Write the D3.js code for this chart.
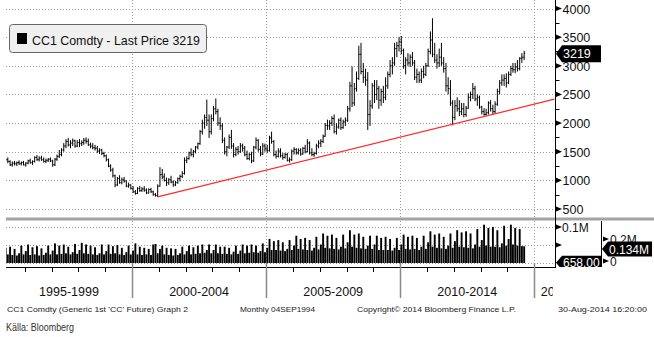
<!DOCTYPE html>
<html><head><meta charset="utf-8">
<script src="https://cdn.jsdelivr.net/npm/d3@7"></script>
<style>
body{margin:0;background:#fff;}
svg{display:block;font-family:"Liberation Sans",Arial,sans-serif;}
</style>
</head><body>
<svg id="c" width="654" height="337"></svg>
<script>
// ---- DATA ----
const firstMonth = "1995-04";
const openP = [
1380,1360,1330,1270,1300,1290,1310,1290,1310,
1270,1300,1340,1310,1330,1400,1360,1390,1360,1330,1350,1370,
1340,1270,1370,1420,1450,1530,1600,1680,1620,1650,1690,1600,
1660,1640,1660,1700,1680,1620,1600,1570,1560,1510,1530,1470,
1430,1360,1250,1180,1080,920,1030,960,1010,990,900,920,
860,800,770,860,820,850,830,780,840,800,750,735,
900,1100,1060,1000,960,1010,970,920,960,1030,1070,1120,
1350,1380,1480,1450,1500,1580,1640,1850,2000,2100,2050,1850,
2080,2250,2200,2000,1950,1700,1500,1580,1750,1600,1450,1540,
1500,1600,1560,1450,1380,1450,1340,1580,1700,1540,1460,1600,
1550,1520,1740,1680,1450,1420,1510,1430,1400,1450,1350,1360,
1510,1540,1480,1520,1460,1560,1500,1650,1480,1450,1470,1600,
1650,1680,1770,1960,1950,2000,2080,1850,1930,2050,1920,2020,
2050,2250,2650,2350,2600,2780,3200,2900,2800,2750,2150,2300,
2650,2500,2600,2400,2550,2450,2650,2850,3000,3050,3300,3350,
3420,3270,3000,3100,3050,3150,3050,2800,2850,2750,2900,2850,
3000,3250,3450,3200,3100,3050,3150,3050,2950,2650,2600,2350,
2100,2300,2250,2200,2250,2150,2260,2450,2500,2600,2420,2450,
2280,2200,2150,2180,2350,2250,2200,2330,2550,2700,2750,2780,
2700,2850,2950,2930,2980,2950,3130,3150];
const highP = [
1420,1400,1350,1330,1340,1330,1350,1330,1340,
1320,1360,1380,1350,1420,1440,1420,1430,1400,1380,1390,1400,
1360,1390,1450,1530,1560,1650,1720,1740,1700,1730,1710,1700,
1720,1700,1740,1750,1730,1660,1650,1620,1600,1560,1550,1500,
1450,1380,1280,1220,1100,1060,1090,1050,1060,1000,960,930,
900,830,880,900,880,900,860,860,870,820,780,930,
1230,1200,1120,1050,1040,1080,1000,990,1050,1100,1160,1400,
1420,1500,1560,1530,1600,1660,1880,2060,2150,2410,2150,2150,
2300,2430,2250,2100,2000,1750,1600,1800,1880,1650,1580,1600,
1650,1640,1600,1520,1480,1500,1600,1750,1720,1600,1650,1640,
1620,1780,1850,1700,1520,1560,1560,1480,1480,1480,1400,1540,
1580,1560,1560,1560,1580,1620,1720,1680,1560,1500,1640,1700,
1720,1800,2000,2060,2050,2120,2150,2000,2080,2100,2060,2100,
2300,2720,2990,2700,2900,3350,3400,3050,2950,2890,2400,2700,
2750,2750,2650,2600,2650,2800,2900,3100,3150,3400,3420,3500,
3520,3300,3150,3220,3200,3240,3100,2950,2900,2950,3000,3050,
3300,3600,3830,3400,3200,3300,3400,3150,3050,2800,2750,2400,
2400,2450,2400,2350,2350,2300,2520,2550,2700,2650,2500,2480,
2300,2260,2250,2380,2400,2320,2380,2600,2750,2850,2850,2870,
2900,3000,3050,3050,3100,3150,3220,3260];
const lowP = [
1330,1300,1250,1240,1260,1250,1270,1260,1260,
1240,1280,1290,1270,1310,1340,1330,1340,1310,1300,1320,1320,
1240,1250,1340,1390,1420,1500,1560,1590,1560,1600,1570,1580,
1580,1600,1620,1640,1600,1560,1540,1520,1480,1460,1440,1400,
1330,1230,1150,1050,880,900,940,930,960,880,870,840,
780,750,760,800,800,800,760,770,780,730,715,710,
890,1020,980,900,920,950,890,900,940,980,1040,1100,
1300,1360,1420,1400,1470,1540,1620,1800,1900,1950,1740,1800,
2030,2150,1950,1880,1650,1450,1420,1550,1550,1400,1420,1450,
1480,1500,1420,1360,1350,1300,1320,1540,1500,1420,1440,1500,
1480,1500,1640,1420,1380,1400,1400,1360,1380,1330,1310,1340,
1450,1450,1450,1430,1450,1470,1490,1450,1420,1410,1450,1560,
1580,1650,1760,1880,1880,1950,1820,1800,1900,1880,1900,1950,
2020,2200,2280,2300,2550,2750,2850,2700,2650,1880,1950,2250,
2350,2400,2250,2300,2350,2400,2600,2800,2850,3000,3150,3250,
3200,2950,2850,3000,2980,3000,2750,2700,2700,2700,2780,2820,
2980,3200,3150,3050,2950,2980,3000,2880,2550,2500,2300,1960,
2050,2200,2120,2140,2100,2110,2250,2380,2420,2380,2300,2250,
2150,2130,2130,2150,2200,2150,2170,2300,2500,2650,2650,2620,
2680,2820,2880,2870,2900,2920,3050,3100];
const closeP = [
1360,1330,1270,1300,1290,1310,1290,1310,1270,
1300,1340,1310,1330,1400,1360,1390,1360,1330,1350,1370,1340,
1270,1370,1420,1450,1530,1600,1680,1620,1650,1690,1600,1660,
1640,1660,1700,1680,1620,1600,1570,1560,1510,1530,1470,1430,
1360,1250,1180,1080,920,1030,960,1010,990,900,920,860,
800,770,860,820,850,830,780,840,800,750,735,900,
1100,1060,1000,960,1010,970,920,960,1030,1070,1120,1350,
1380,1480,1450,1500,1580,1640,1850,2000,2100,2050,1850,2080,
2250,2200,2000,1950,1700,1500,1580,1750,1600,1450,1540,1500,
1600,1560,1450,1380,1450,1340,1580,1700,1540,1460,1600,1550,
1520,1740,1680,1450,1420,1510,1430,1400,1450,1350,1360,1510,
1540,1480,1520,1460,1560,1500,1650,1480,1450,1470,1600,1650,
1680,1770,1960,1950,2000,2080,1850,1930,2050,1920,2020,2050,
2250,2650,2350,2600,2780,3200,2900,2800,2750,2150,2300,2650,
2500,2600,2400,2550,2450,2650,2850,3000,3050,3300,3350,3420,
3270,3000,3100,3050,3150,3050,2800,2850,2750,2900,2850,3000,
3250,3450,3200,3100,3050,3150,3050,2950,2650,2600,2350,2100,
2300,2250,2200,2250,2150,2260,2450,2500,2600,2420,2450,2280,
2200,2150,2180,2350,2250,2200,2330,2550,2700,2750,2780,2700,
2850,2950,2930,2980,2950,3130,3150,3219];
// monthly volume, thousands of lots
const volumeK = [
120,60,130,55,110,50,70,140,60,
90,150,55,125,60,135,50,115,55,75,140,60,
95,160,60,140,65,150,70,130,60,80,155,65,
100,165,70,150,65,140,60,125,55,70,150,60,
90,150,65,135,70,145,60,120,55,80,140,60,
95,160,60,130,55,120,60,110,55,150,155,70,
110,140,60,120,55,115,50,110,55,70,130,60,
90,140,60,125,65,140,70,150,75,100,150,70,
100,150,70,130,65,130,65,120,60,85,140,65,
95,150,70,140,75,150,80,140,75,90,160,80,
120,200,100,180,100,190,95,170,90,110,190,100,
140,230,110,200,105,210,100,190,95,120,220,105,
150,250,120,230,115,240,110,210,105,130,240,115,
170,280,130,240,120,250,115,220,110,140,230,110,
150,230,100,210,100,220,100,200,95,120,210,100,
150,240,110,220,105,230,110,210,100,130,230,110,
170,270,130,240,120,250,115,220,110,140,250,120,
180,280,130,260,125,270,120,250,115,150,290,130,
190,330,140,300,130,310,130,280,125,160,320,140,
200,330,150,300,140,290,135,134];
const priceTicks = [500,1000,1500,2000,2500,3000,3500,4000];
const priceMinorTicks = [750,1250,1750,2250,2750,3250,3750];
const periodStarts = [1995,2000,2005,2010,2015,2020];
const periodLabels = ["1995-1999","2000-2004","2005-2009","2010-2014","2015-2019"];
const trendDates = ["2000-12-15","2015-10-01"];
const trendValues = [710,2418];
const lastPrice = 3219;
const lastVolume = 134000;
const lastOther = 658;
const volAxisLeftTicks = [50000,100000];
const volAxisLeftLabels = ["","0.1M"];
const volAxisRightTicks = [0,200000];
const volAxisRightLabels = ["0","0.2M"];
const legendText = "CC1 Comdty - Last Price 3219";
const footer = ["CC1 Comdty (Generic 1st 'CC' Future) Graph 2","Monthly 04SEP1994","Copyright\u00A9 2014 Bloomberg Finance L.P.","30-Aug-2014 16:20:00"];
const sourceText = "K\u00E4lla: Bloomberg";

// ---- CHART ----
const svg = d3.select("#c");
const plotL = 6, plotR = 555;
const parseM = d3.timeParse("%Y-%m");
const parseD = d3.timeParse("%Y-%m-%d");
const months = openP.map((_, i) => d3.timeMonth.offset(parseM(firstMonth), i));
const mid = d => d3.timeDay.offset(d, 15);

const x = d3.scaleTime().domain([new Date(1995,0,1), new Date(2015,0,1)]).range([-2.1, 534.3]);
const y = d3.scaleLinear().domain([500,4000]).range([209,8.5]);
const yVol = d3.scaleLinear().domain([0,200000]).range([261,239]);
const yVolL = d3.scaleLinear().domain([0,100000]).range([263,227]);

const defs = svg.append("defs");
defs.append("clipPath").attr("id","cp").append("rect").attr("x",plotL).attr("y",0).attr("width",plotR-plotL).attr("height",217);
defs.append("clipPath").attr("id","cv").append("rect").attr("x",plotL).attr("y",221).attr("width",plotR-plotL).attr("height",42);
defs.append("clipPath").attr("id","cx").append("rect").attr("x",plotL).attr("y",270).attr("width",553-plotL).attr("height",40);
defs.append("clipPath").attr("id","cl").append("rect").attr("x",540).attr("y",221).attr("width",114).attr("height",46);

const gridCol = "#9c9c9c";
svg.append("g").selectAll("line").data(priceTicks).join("line")
  .attr("x1",plotL).attr("x2",plotR).attr("y1",d=>Math.round(y(d))+0.5).attr("y2",d=>Math.round(y(d))+0.5)
  .attr("stroke",gridCol).attr("stroke-dasharray","1,2");
svg.append("g").selectAll("line").data([0,50000,100000]).join("line")
  .attr("x1",plotL).attr("x2",plotR).attr("y1",d=>Math.round(yVolL(d))+0.5).attr("y2",d=>Math.round(yVolL(d))+0.5)
  .attr("stroke",gridCol).attr("stroke-dasharray","1,2");
const sepYears = periodStarts.slice(1,5);
svg.append("g").selectAll("line").data(sepYears).join("line")
  .attr("x1",d=>Math.round(x(new Date(d,0,1)))+0.5).attr("x2",d=>Math.round(x(new Date(d,0,1)))+0.5)
  .attr("y1",0).attr("y2",217).attr("stroke",gridCol).attr("stroke-dasharray","1,2");
svg.append("g").selectAll("line").data(sepYears).join("line")
  .attr("x1",d=>Math.round(x(new Date(d,0,1)))+0.5).attr("x2",d=>Math.round(x(new Date(d,0,1)))+0.5)
  .attr("y1",221).attr("y2",263).attr("stroke",gridCol).attr("stroke-dasharray","1,2");

// price bars
const gp = svg.append("g").attr("clip-path","url(#cp)");
months.forEach((m,i) => {
  const cx = x(mid(m));
  gp.append("line").attr("x1",cx).attr("x2",cx).attr("y1",y(highP[i])).attr("y2",y(lowP[i])).attr("stroke","#000").attr("stroke-width",1);
  gp.append("line").attr("x1",cx-1).attr("x2",cx).attr("y1",y(openP[i])).attr("y2",y(openP[i])).attr("stroke","#000").attr("stroke-width",1);
  gp.append("line").attr("x1",cx).attr("x2",cx+1).attr("y1",y(closeP[i])).attr("y2",y(closeP[i])).attr("stroke","#000").attr("stroke-width",1);
});
gp.append("line")
  .attr("x1",x(parseD(trendDates[0]))).attr("y1",y(trendValues[0]))
  .attr("x2",x(parseD(trendDates[1]))).attr("y2",y(trendValues[1]))
  .attr("stroke","#ff2a2a").attr("stroke-width",1.3);

// volume bars
const gv = svg.append("g").attr("clip-path","url(#cv)");
gv.selectAll("rect").data(volumeK).join("rect")
  .attr("x",(d,i)=>x(mid(months[i]))-0.95).attr("width",1.9)
  .attr("y",d=>yVol(d*1000)).attr("height",d=>yVol(0)-yVol(d*1000)+2)
  .attr("fill","#000");

// separator band
svg.append("rect").attr("x",plotL).attr("y",217.5).attr("width",654-plotL).attr("height",3).attr("fill","#a3a3a3");

// right axis
svg.append("line").attr("x1",555.5).attr("x2",555.5).attr("y1",0).attr("y2",268).attr("stroke","#000");
const tri = (x0,yy) => `M${x0},${yy-2.6}L${x0+6},${yy}L${x0},${yy+2.6}Z`;
svg.append("g").selectAll("path").data(priceTicks).join("path").attr("d",d=>tri(556,y(d))).attr("fill","#000");
svg.append("g").selectAll("line").data(priceMinorTicks).join("line")
  .attr("x1",556).attr("x2",559.5).attr("y1",d=>Math.round(y(d))+0.5).attr("y2",d=>Math.round(y(d))+0.5).attr("stroke","#000");
svg.append("g").selectAll("text").data(priceTicks).join("text")
  .attr("x",562.5).attr("y",d=>y(d)+5).attr("font-size","12.5px").attr("fill","#111").text(d=>d);

function valBox(g, tipX, cy, w, h, txt, fs){
  g.append("path").attr("d",`M${tipX},${cy}L${tipX+6},${cy-h/2}L${tipX+w},${cy-h/2}L${tipX+w},${cy+h/2}L${tipX+6},${cy+h/2}Z`).attr("fill","#000");
  g.append("text").attr("x",tipX+7).attr("y",cy+4.5).attr("fill","#fff").attr("font-size",fs).text(txt);
}
valBox(svg, 556, y(lastPrice)+0.5, 45, 17, String(lastPrice), "12.5px");

// volume axes
const gva = svg.append("g").attr("clip-path","url(#cl)");
gva.selectAll("path.t").data(volAxisLeftTicks).join("path").attr("class","t").attr("d",d=>tri(556,yVolL(d))).attr("fill","#000");
gva.selectAll("text.t").data(volAxisLeftTicks).join("text").attr("class","t")
  .attr("x",562).attr("y",d=>yVolL(d)+4.5).attr("font-size","12px").attr("fill","#111").text((d,i)=>volAxisLeftLabels[i]);
gva.append("line").attr("x1",601.5).attr("x2",601.5).attr("y1",221).attr("y2",266).attr("stroke","#000");
gva.selectAll("path.r").data(volAxisRightTicks).join("path").attr("class","r").attr("d",d=>tri(603,yVol(d))).attr("fill","#000");
gva.selectAll("text.r").data(volAxisRightTicks).join("text").attr("class","r")
  .attr("x",610).attr("y",d=>yVol(d)+4.5).attr("font-size","12px").attr("fill","#111").text((d,i)=>volAxisRightLabels[i]);
valBox(gva, 602, yVol(lastVolume)+2.8, 50, 15, (lastVolume/1e6).toFixed(3)+"M", "12px");
valBox(gva, 556, yVolL(lastOther), 46, 14, lastOther.toFixed(2), "12px");

// bottom axis
svg.append("line").attr("x1",plotL).attr("x2",555).attr("y1",267.5).attr("y2",267.5).attr("stroke","#000");
const yearTicks = d3.range(1996,2015);
svg.append("g").selectAll("line").data(yearTicks).join("line")
  .attr("x1",d=>Math.round(x(new Date(d,0,1)))+0.5).attr("x2",d=>Math.round(x(new Date(d,0,1)))+0.5)
  .attr("y1",268).attr("y2",272).attr("stroke","#000");
svg.append("g").selectAll("line").data(sepYears).join("line")
  .attr("x1",d=>Math.round(x(new Date(d,0,1)))+0.5).attr("x2",d=>Math.round(x(new Date(d,0,1)))+0.5)
  .attr("y1",263).attr("y2",298).attr("stroke","#8a8a8a").attr("stroke-width",1.5);
const gx = svg.append("g").attr("clip-path","url(#cx)");
periodLabels.forEach((lab,i) => {
  const a = Math.max(plotL, x(new Date(periodStarts[i],0,1)));
  const b = Math.min(555, x(new Date(periodStarts[i+1],0,1)));
  if (i < 4) {
    gx.append("text").attr("x",(a+b)/2).attr("y",296).attr("text-anchor","middle").attr("font-size","12.5px").attr("fill","#111").text(lab);
  } else {
    gx.append("text").attr("x",a+6.5).attr("y",296).attr("font-size","12.5px").attr("fill","#111").text(lab);
  }
});

// footer
const fpos = [[7,181],[240,75],[357,159],[558,89]];
footer.forEach((t,i)=>{
  svg.append("text").attr("x",fpos[i][0]).attr("y",312).attr("font-size","8px").attr("fill","#222")
    .attr("textLength",fpos[i][1]).attr("lengthAdjust","spacingAndGlyphs").text(t);
});
svg.append("text").attr("x",6).attr("y",331).attr("font-size","10px").attr("fill","#333")
  .attr("textLength",68).attr("lengthAdjust","spacingAndGlyphs").text(sourceText);

// legend
const lg = svg.append("g");
lg.append("rect").attr("x",9.5).attr("y",24.5).attr("width",197).attr("height",28).attr("rx",3)
  .attr("fill","#f0f0f0").attr("stroke","#666");
lg.append("rect").attr("x",17).attr("y",33).attr("width",10).attr("height",11).attr("fill","#000");
lg.append("text").attr("x",32).attr("y",45).attr("font-size","13px").attr("fill","#111")
  .attr("textLength",168).attr("lengthAdjust","spacingAndGlyphs").text(legendText);
</script>
</body></html>
